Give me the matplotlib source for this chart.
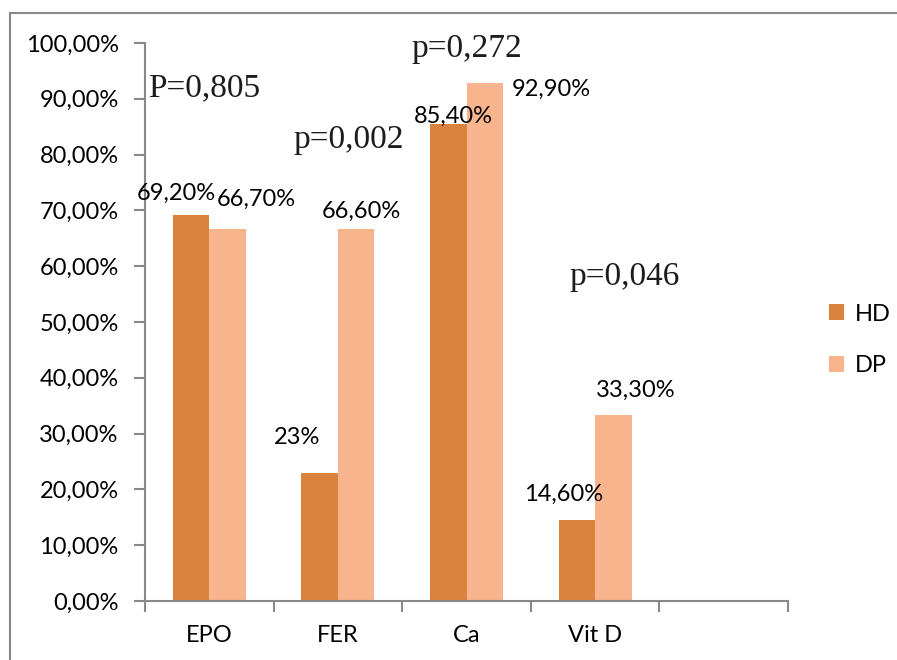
import matplotlib
matplotlib.use("Agg")
import matplotlib.pyplot as plt
from matplotlib.patches import Rectangle
import numpy as np

# datos
categorias = ["EPO", "FER", "Ca", "Vit D", ""]
hd = [69.2, 23.0, 85.4, 14.6]
dp = [66.7, 66.6, 92.9, 33.3]
etiquetas_hd = ["69,20%", "23%", "85,40%", "14,60%"]
etiquetas_dp = ["66,70%", "66,60%", "92,90%", "33,30%"]
p_valores = ["P=0,805", "p=0,002", "p=0,272", "p=0,046"]
ticks_y = list(range(0, 101, 10))
ticks_y_txt = ["0,00%", "10,00%", "20,00%", "30,00%", "40,00%", "50,00%",
               "60,00%", "70,00%", "80,00%", "90,00%", "100,00%"]

# desplazamientos de las etiquetas (pixeles) respecto a la punta de cada barra
desp_hd = [(-15, 22), (-23, 35), (5, 8), (-13, 25)]
desp_dp = [(29, 29), (5, 18), (67, -7), (22, 25)]
# posiciones de los p (x en categorias, y en %)
pos_p = [(-0.477, 90.5), (0.651, 81.2), (1.568, 97.5), (2.797, 56.6)]

col_hd = "#DA833E"
col_dp = "#F8B48D"
gris = "#888888"
fuente = "Lato"
tam = 17

fig = plt.figure(figsize=(8.97, 6.6), dpi=100)
ax = fig.add_axes([145 / 897, 1 - 601 / 660, (788 - 145) / 897, (601 - 43) / 660])

# marco exterior
fig.patches.append(Rectangle((10 / 897, -0.2), 1.2, 1.2 - 13 / 660,
                             transform=fig.transFigure, fill=False,
                             edgecolor=gris, lw=1.5))

ancho = 0.284
x = np.arange(len(hd))
b1 = ax.bar(x - ancho / 2, hd, ancho, color=col_hd, label="HD", zorder=2)
b2 = ax.bar(x + ancho / 2, dp, ancho, color=col_dp, label="DP", zorder=2)

for xi, v, t, d in zip(x - ancho / 2, hd, etiquetas_hd, desp_hd):
    ax.annotate(t, (xi, v), xytext=d, textcoords="offset pixels",
                ha="center", va="center", fontsize=tam, family=fuente, zorder=3)
for xi, v, t, d in zip(x + ancho / 2, dp, etiquetas_dp, desp_dp):
    ax.annotate(t, (xi, v), xytext=d, textcoords="offset pixels",
                ha="center", va="center", fontsize=tam, family=fuente, zorder=3)

for t, (px, py) in zip(p_valores, pos_p):
    ax.text(px, py, t, ha="left", va="baseline", fontsize=24,
            family="Liberation Serif", color="#1c1c1c", zorder=5,
            bbox=dict(boxstyle="square,pad=0.05", fc="white", ec="none"))

ax.set_xlim(-0.5, 4.5)
ax.set_ylim(0, 100)
ax.set_yticks(ticks_y)
ax.set_yticklabels(ticks_y_txt, fontsize=tam, family=fuente)
ax.set_xticks(np.arange(5))
ax.set_xticklabels(categorias, fontsize=tam, family=fuente)
ax.set_xticks(np.arange(-0.5, 5, 1), minor=True)
ax.tick_params(axis="x", which="major", length=0, pad=17)
ax.tick_params(axis="x", which="minor", length=8, width=1.5, color=gris, direction="out")
ax.tick_params(axis="y", length=8, width=1.5, color=gris, pad=11)

for s in ["top", "right"]:
    ax.spines[s].set_visible(False)
for s in ["left", "bottom"]:
    ax.spines[s].set_color(gris)
    ax.spines[s].set_linewidth(1.5)

fig.legend(handles=[b1, b2], loc="center left", bbox_to_anchor=(829 / 897, 1 - 340 / 660),
           frameon=False, prop={"family": fuente, "size": tam},
           borderpad=0, borderaxespad=0,
           handlelength=0.65, handleheight=0.65, handletextpad=0.45, labelspacing=1.3)

fig.savefig("out.png", dpi=100)
